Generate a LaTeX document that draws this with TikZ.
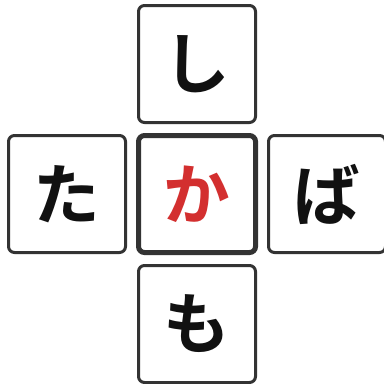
\documentclass[tikz,border=0pt]{standalone}
\usepackage{fontspec}
\newfontfamily\jpfont{Noto Sans CJK JP}[BoldFont={* Bold}]
\usepackage{tikz}
\usetikzlibrary{positioning}
\definecolor{keyframe}{RGB}{51,51,51}
\definecolor{kanaink}{RGB}{17,17,17}
\definecolor{kanared}{RGB}{211,47,47}

\begin{document}
\begin{tikzpicture}[x=0.75pt, y=-0.75pt,
  key/.style={draw=keyframe, fill=white, line width=2.25pt, rounded corners=4.5pt,
    minimum size=87.75pt, inner sep=0pt, text=kanaink,
    font=\jpfont\bfseries\fontsize{50}{50}\selectfont}]
  \useasboundingbox (0,0) rectangle (384,383);
  \node[key] (up) at (197,64) {\raisebox{-3.5pt}{し}};
  \node[key] (left) at (67,194) {\raisebox{-3.5pt}{た}};
  \node[key, line width=3.75pt, text=kanared] (mid) at (197,194) {\raisebox{-3.5pt}{か}};
  \node[key] (right) at (327,194) {\raisebox{-3.5pt}{ば}};
  \node[key] (down) at (197,324) {\raisebox{-3.5pt}{も}};
\end{tikzpicture}
\end{document}
